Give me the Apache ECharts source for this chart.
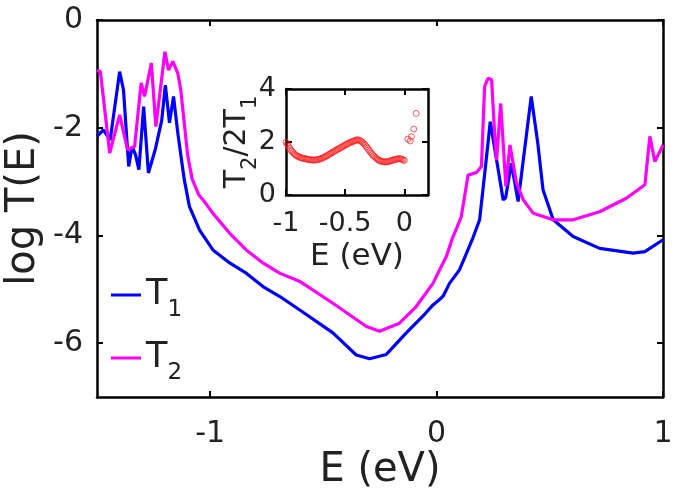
<!DOCTYPE html>
<html><head><meta charset="utf-8">
<script src="https://cdn.jsdelivr.net/npm/echarts@6/dist/echarts.min.js"></script>
<style>html,body{margin:0;padding:0;background:#fff}#c{width:675px;height:503px}</style>
</head><body><div id="c"></div>
<script>
// Main curves: energy (eV) and log T(E)
var t1E = [-1.5,-1.472,-1.442,-1.40,-1.383,-1.36,-1.345,-1.33,-1.315,-1.294,-1.273,-1.243,-1.214,-1.198,-1.18,-1.162,-1.143,-1.13,-1.115,-1.092,-1.047,-0.988,-0.914,-0.841,-0.767,-0.694,-0.606,-0.458,-0.355,-0.296,-0.222,-0.134,-0.05,-0.016,0.013,0.03,0.057,0.101,0.13,0.16,0.19,0.219,0.237,0.265,0.294,0.305,0.33,0.36,0.418,0.447,0.47,0.515,0.603,0.72,0.868,0.92,1.0];
var t1V = [-2.16,-2.04,-2.23,-0.96,-1.30,-2.72,-2.35,-2.5,-2.78,-1.61,-2.84,-2.41,-1.86,-1.21,-1.91,-1.42,-2.10,-2.5,-2.95,-3.46,-3.9,-4.27,-4.51,-4.70,-4.95,-5.13,-5.38,-5.81,-6.22,-6.29,-6.21,-5.81,-5.45,-5.29,-5.19,-5.12,-4.89,-4.64,-4.35,-4.05,-3.71,-2.60,-1.89,-2.60,-3.34,-3.30,-2.66,-3.37,-1.42,-2.29,-3.15,-3.71,-4.02,-4.24,-4.33,-4.30,-4.08];
var t2E = [-1.5,-1.485,-1.444,-1.40,-1.365,-1.334,-1.305,-1.29,-1.26,-1.24,-1.20,-1.184,-1.165,-1.143,-1.13,-1.115,-1.10,-1.08,-1.05,-1.026,-0.988,-0.914,-0.841,-0.767,-0.694,-0.606,-0.458,-0.31,-0.252,-0.164,-0.09,-0.016,0.013,0.043,0.07,0.09,0.109,0.139,0.176,0.198,0.212,0.227,0.243,0.257,0.265,0.283,0.306,0.324,0.353,0.383,0.427,0.515,0.603,0.72,0.838,0.92,0.942,0.964,1.0];
var t2V = [-0.93,-0.96,-2.47,-1.76,-2.41,-2.35,-1.17,-1.42,-0.80,-1.98,-0.59,-0.93,-0.77,-0.99,-1.3,-1.9,-2.5,-2.95,-3.25,-3.37,-3.59,-3.96,-4.27,-4.51,-4.70,-4.85,-5.26,-5.69,-5.78,-5.63,-5.32,-4.89,-4.64,-4.39,-4.05,-3.85,-3.65,-2.88,-2.83,-2.72,-1.24,-1.08,-1.11,-2.16,-2.60,-1.55,-3.09,-2.32,-3.03,-3.34,-3.59,-3.71,-3.71,-3.56,-3.31,-3.06,-2.16,-2.63,-2.32];
// Inset: ratio T2/2T1 (0.01 eV apart, plus the scattered points above 0)
var rE = [-1.00,-0.99,-0.98,-0.97,-0.96,-0.95,-0.94,-0.93,-0.92,-0.91,-0.90,-0.89,-0.88,-0.87,-0.86,-0.85,-0.84,-0.83,-0.82,-0.81,-0.80,-0.79,-0.78,-0.77,-0.76,-0.75,-0.74,-0.73,-0.72,-0.71,-0.70,-0.69,-0.68,-0.67,-0.66,-0.65,-0.64,-0.63,-0.62,-0.61,-0.60,-0.59,-0.58,-0.57,-0.56,-0.55,-0.54,-0.53,-0.52,-0.51,-0.50,-0.49,-0.48,-0.47,-0.46,-0.45,-0.44,-0.43,-0.42,-0.41,-0.40,-0.39,-0.38,-0.37,-0.36,-0.35,-0.34,-0.33,-0.32,-0.31,-0.30,-0.29,-0.28,-0.27,-0.26,-0.25,-0.24,-0.23,-0.22,-0.21,-0.20,-0.19,-0.18,-0.17,-0.16,-0.15,-0.14,-0.13,-0.12,-0.11,-0.10,-0.09,-0.08,-0.07,-0.06,-0.05,-0.04,-0.03,-0.02,-0.01,0.00,0.03,0.05,0.06,0.08,0.10];
var rV = [1.99,1.92,1.85,1.77,1.70,1.65,1.60,1.55,1.51,1.48,1.46,1.44,1.42,1.40,1.39,1.38,1.37,1.36,1.35,1.34,1.33,1.33,1.32,1.32,1.32,1.32,1.33,1.34,1.35,1.36,1.38,1.40,1.42,1.44,1.47,1.49,1.52,1.55,1.58,1.60,1.63,1.66,1.68,1.71,1.73,1.76,1.78,1.81,1.83,1.86,1.88,1.91,1.93,1.96,1.98,2.00,2.01,2.03,2.05,2.07,2.08,2.08,2.06,2.04,2.01,1.97,1.93,1.88,1.82,1.76,1.70,1.64,1.58,1.53,1.48,1.44,1.40,1.36,1.33,1.30,1.28,1.27,1.26,1.25,1.25,1.25,1.26,1.27,1.28,1.30,1.31,1.33,1.34,1.35,1.36,1.37,1.37,1.36,1.35,1.33,1.30,2.11,2.04,2.20,2.49,3.08];
var mainXTicks = [-1, 0, 1];
var mainYTicks = [-6, -4, -2, 0];
var insetXTicks = [-1, -0.5, 0];
var insetYTicks = [0, 2, 4];

function zip(a, b) { return a.map(function (v, i) { return [v, b[i]]; }); }

var FONT = 'DejaVu Sans';
var axisLineStyle = { color: '#000', width: 2.5 };
function ax(gi, min, max, ticks, pos, showLabel, fs, margin, name, nameGap, nameFs) {
  return {
    type: 'value', gridIndex: gi, min: min, max: max, position: pos,
    axisLine: { show: true, onZero: false, lineStyle: axisLineStyle },
    axisTick: { show: true, inside: true, length: 6, customValues: ticks, lineStyle: { color: '#000', width: 2 } },
    axisLabel: { show: showLabel, customValues: ticks, fontSize: fs, fontFamily: FONT, color: '#222', margin: margin },
    splitLine: { show: false },
    name: name || '', nameLocation: 'middle', nameGap: nameGap || 0, nameMoveOverlap: false,
    nameTextStyle: { fontSize: nameFs || 20, fontFamily: FONT, color: '#222' }
  };
}
var option = {
  animation: false,
  backgroundColor: '#fff',
  grid: [
    { left: 97, top: 20, width: 566, height: 377, outerBoundsMode: 'none', containLabel: false },
    { left: 286, top: 89, width: 142, height: 106, outerBoundsMode: 'none', containLabel: false }
  ],
  xAxis: [
    ax(0, -1.5, 1, mainXTicks, 'bottom', true, 30, 22, 'E (eV)', 54, 40),
    ax(0, -1.5, 1, mainXTicks, 'top', false, 30, 8),
    ax(1, -1, 0.2, insetXTicks, 'bottom', true, 27, 15, 'E (eV)', 46, 31),
    ax(1, -1, 0.2, insetXTicks, 'top', false, 27, 8)
  ],
  yAxis: [
    ax(0, -7, 0, mainYTicks, 'left', true, 30, 14, 'log T(E)', 53, 40),
    ax(0, -7, 0, mainYTicks, 'right', false, 30, 8),
    ax(1, 0, 4, insetYTicks, 'left', true, 27, 10, '{t|T}{s|2}{t|/2T}{s|1}', 32, 30),
    ax(1, 0, 4, insetYTicks, 'right', false, 27, 8)
  ],
  legend: {
    data: ['T1', 'T2'], orient: 'vertical', left: 106, top: 272, itemGap: 18,
    icon: 'rect', itemWidth: 30, itemHeight: 3,
    formatter: function (n) { return '{t|T}{s|' + n.slice(1) + '}'; },
    textStyle: { color: '#222', fontFamily: FONT,
      rich: { t: { fontSize: 35, fontFamily: FONT, color: '#222', verticalAlign: 'top', lineHeight: 36 },
              s: { fontSize: 23, fontFamily: FONT, color: '#222', verticalAlign: 'top', lineHeight: 24, padding: [22, 0, 0, 0] } } }
  },
  series: [
    { name: 'T1', type: 'line', xAxisIndex: 0, yAxisIndex: 0, data: zip(t1E, t1V), showSymbol: false,
      lineStyle: { color: '#0000ff', width: 3.2 }, itemStyle: { color: '#0000ff' } },
    { name: 'T2', type: 'line', xAxisIndex: 0, yAxisIndex: 0, data: zip(t2E, t2V), showSymbol: false,
      lineStyle: { color: '#ff00ff', width: 3.2 }, itemStyle: { color: '#ff00ff' } },
    { name: 'ratio', type: 'scatter', xAxisIndex: 2, yAxisIndex: 2, data: zip(rE, rV), symbol: 'circle', symbolSize: 6,
      itemStyle: { color: 'rgba(255,255,255,0)', borderColor: '#ff2020', borderWidth: 0.9 }, z: 5 }
  ]
};
option.yAxis[2].nameTextStyle.rich = {
  t: { fontSize: 30, fontFamily: FONT, color: '#222', verticalAlign: 'top', lineHeight: 32 },
  s: { fontSize: 21, fontFamily: FONT, color: '#222', verticalAlign: 'top', lineHeight: 22, padding: [18, 0, 0, 0] }
};
var chart = echarts.init(document.getElementById('c'), null, { renderer: 'canvas' });
chart.setOption(option);
</script></body></html>
